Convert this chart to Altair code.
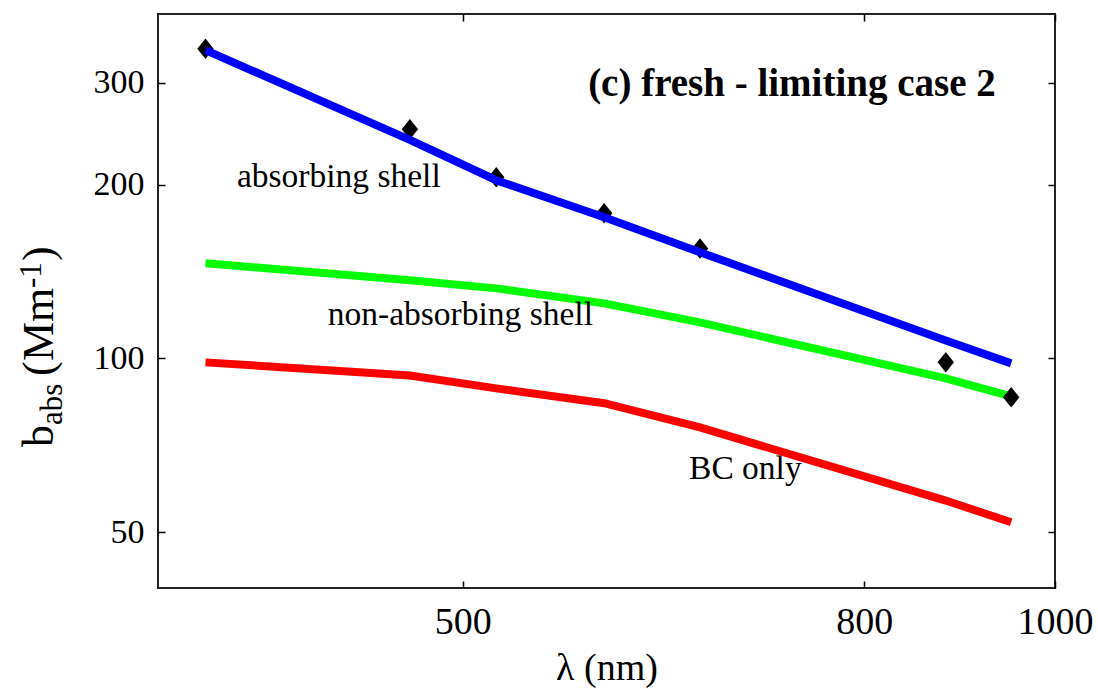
import altair as alt
import pandas as pd

# ---- data ----
wavelength = [370, 470, 520, 590, 660, 880, 950]
absorbing_shell = [342, 239, 203.5, 175.6, 152.7, 107.4, 98.0]
non_absorbing_shell = [146.1, 136.5, 132.2, 124.5, 115.4, 92.3, 85.9]
bc_only = [98.4, 93.4, 88.7, 83.6, 75.9, 56.7, 52.0]
measured = [344, 249.4, 206, 178.4, 155, 98.4, 85.6]

x_ticks = [500, 800, 1000]
y_ticks = [50, 100, 200, 300]

ann_text = ["absorbing shell", "non-absorbing shell", "BC only"]
ann_x = [432.5, 498.6, 696]
ann_y = [197.9, 114.1, 61.7]

title_text = "(c) fresh - limiting case 2"
title_x = 735
title_y = 284.4

FONT = "Liberation Serif"

df = pd.DataFrame({
    "wl": wavelength,
    "abs": absorbing_shell,
    "non": non_absorbing_shell,
    "bc": bc_only,
    "meas": measured,
})
ann = pd.DataFrame({"t": ann_text, "x": ann_x, "y": ann_y})
ttl = pd.DataFrame({"t": [title_text], "x": [title_x], "y": [title_y]})

xs = alt.Scale(type="log", domain=[350, 1000], nice=False)
ys = alt.Scale(type="log", domain=[40, 395], nice=False)

common_axis = dict(domain=False, grid=False, tickSize=7, offset=-7, tickColor="black",
                   tickWidth=1.5, labelOverlap=False, labelFlush=False,
                   labelFont=FONT, labelColor="black")

x_bottom = alt.Axis(orient="bottom", values=x_ticks, labelFontSize=38, labelPadding=15,
                    title="λ (nm)", titleFont=FONT, titleFontSize=38, titleFontWeight="normal",
                    titleColor="black", titlePadding=8, format="d", **common_axis)
y_left = alt.Axis(orient="left", values=y_ticks, labelFontSize=34, labelPadding=14,
                  title=None, format="d", **common_axis)
x_top = alt.Axis(orient="top", values=x_ticks, labels=False, title=None, **common_axis)
y_right = alt.Axis(orient="right", values=y_ticks, labels=False, title=None, **common_axis)

base = alt.Chart(df)

green = base.mark_line(color="#00ff00", strokeWidth=8, strokeCap="butt").encode(
    x=alt.X("wl:Q", scale=xs, axis=x_bottom),
    y=alt.Y("non:Q", scale=ys, axis=y_left),
)
red = base.mark_line(color="#ff0000", strokeWidth=8, strokeCap="butt").encode(
    x=alt.X("wl:Q", scale=xs, axis=None),
    y=alt.Y("bc:Q", scale=ys, axis=None),
)
points = base.mark_point(shape="M-0.8,0L0,-1L0.8,0L0,1Z", filled=True, color="black",
                         size=420, opacity=1).encode(
    x=alt.X("wl:Q", scale=xs, axis=x_top),
    y=alt.Y("meas:Q", scale=ys, axis=y_right),
)
blue = base.mark_line(color="#0000ff", strokeWidth=8, strokeCap="butt").encode(
    x=alt.X("wl:Q", scale=xs, axis=None),
    y=alt.Y("abs:Q", scale=ys, axis=None),
)
annot = alt.Chart(ann).mark_text(font=FONT, fontSize=33.5, color="black", align="center",
                                  baseline="alphabetic").encode(
    x=alt.X("x:Q", scale=xs, axis=None),
    y=alt.Y("y:Q", scale=ys, axis=None),
    text="t:N",
)
title = alt.Chart(ttl).mark_text(font=FONT, fontSize=39, fontWeight="bold", color="black",
                                 align="center", baseline="alphabetic").encode(
    x=alt.X("x:Q", scale=xs, axis=None),
    y=alt.Y("y:Q", scale=ys, axis=None),
    text="t:N",
)

# y-axis title with subscript / superscript, rotated (text, size, x, y in view pixels)
ylab_pieces = [
    ("b", 44, -105, 433),
    ("abs", 31, -96, 411),
    ("(", 44, -105, 362),
    ("Mm", 44, -105, 347),
    ("-1", 31, -117, 274),
    (")", 44, -105, 247),
]
ylab_layers = []
for txt, fs, px, py in ylab_pieces:
    ylab_layers.append(
        alt.Chart(pd.DataFrame({"t": [txt]})).mark_text(
            font=FONT, fontSize=fs, color="black", angle=270, align="left",
            baseline="alphabetic").encode(
            x=alt.value(px), y=alt.value(py), text="t:N")
    )

chart = alt.layer(green, red, points, blue, annot, title, *ylab_layers).resolve_axis(
    x="independent", y="independent"
).properties(
    width=897, height=574,
    padding={"left": 158, "top": 14, "right": 43, "bottom": 101},
    autosize=alt.AutoSizeParams(type="none"),
).configure_view(stroke="#222222", strokeWidth=2)

chart.save("out.html", embed_options={"renderer": "svg", "actions": False})
